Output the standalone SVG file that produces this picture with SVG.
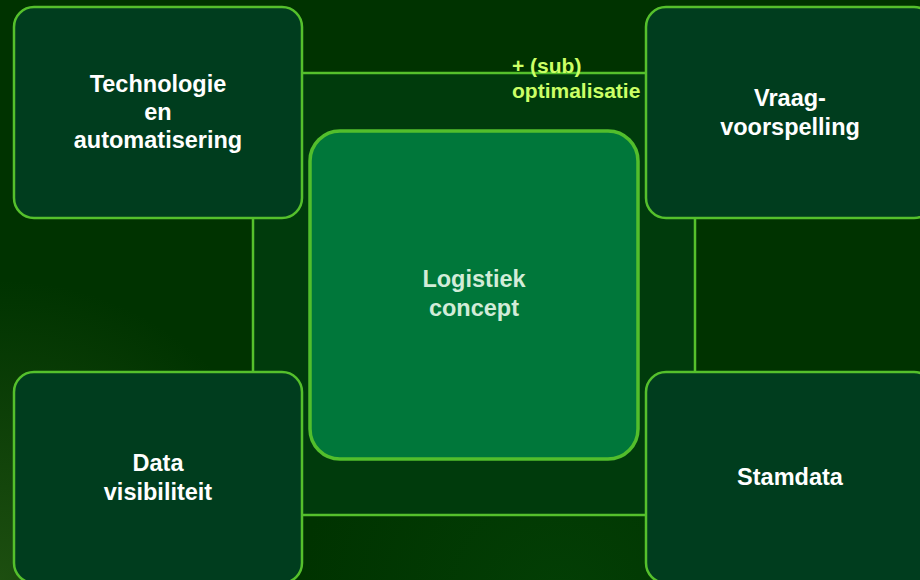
<svg xmlns="http://www.w3.org/2000/svg" width="920" height="580" viewBox="0 0 920 580">
  <defs>
    <radialGradient id="glow" cx="0" cy="580" r="300" gradientUnits="userSpaceOnUse">
      <stop offset="0" stop-color="#3a6a20" stop-opacity="0.5"/>
      <stop offset="1" stop-color="#3a6a20" stop-opacity="0"/>
    </radialGradient>
    <radialGradient id="glow2" cx="560" cy="600" r="260" gradientUnits="userSpaceOnUse">
      <stop offset="0" stop-color="#0a5a10" stop-opacity="0.3"/>
      <stop offset="1" stop-color="#0a5a10" stop-opacity="0"/>
    </radialGradient>
    <style>
      .box { fill: #003d1e; stroke: #55c02c; stroke-width: 2.5; }
      .core { fill: #00773a; stroke: #52be2c; stroke-width: 3.5; }
      .frame { fill: #003b0c; stroke: #55c02c; stroke-width: 2.5; }
      .t { font-family: "Liberation Sans", Arial, sans-serif; font-weight: bold; font-size: 23.5px; fill: #ffffff; text-anchor: middle; }
      .tc { fill: #d2ecd8; }
      .lbl { font-family: "Liberation Sans", Arial, sans-serif; font-weight: bold; font-size: 21px; fill: #ccff66; }
    </style>
  </defs>
  <rect x="0" y="0" width="920" height="580" fill="#003300"/>
  <rect x="0" y="0" width="920" height="580" fill="url(#glow)"/>
  <rect x="0" y="0" width="920" height="580" fill="url(#glow2)"/>

  <g id="connectors">
    <rect class="frame" x="253" y="73" width="442" height="442"/>
  </g>

  <g id="label">
    <text class="lbl" x="512" y="73">+ (sub)</text>
    <text class="lbl" x="512" y="98">optimalisatie</text>
  </g>

  <g id="node-technologie">
    <rect class="box" x="14" y="7" width="288" height="211" rx="20"/>
    <text class="t" x="158" y="91.5">Technologie</text>
    <text class="t" x="158" y="119.5">en</text>
    <text class="t" x="158" y="147.5">automatisering</text>
  </g>

  <g id="node-vraag">
    <rect class="box" x="646" y="7" width="288" height="211" rx="20"/>
    <text class="t" x="790" y="106">Vraag-</text>
    <text class="t" x="790" y="134.5">voorspelling</text>
  </g>

  <g id="node-data">
    <rect class="box" x="14" y="372" width="288" height="211" rx="20"/>
    <text class="t" x="158" y="471">Data</text>
    <text class="t" x="158" y="499.5">visibiliteit</text>
  </g>

  <g id="node-stamdata">
    <rect class="box" x="646" y="372" width="288" height="211" rx="20"/>
    <text class="t" x="790" y="484.5">Stamdata</text>
  </g>

  <g id="node-logistiek">
    <rect class="core" x="310" y="131" width="328" height="328" rx="30"/>
    <text class="t tc" x="474" y="287">Logistiek</text>
    <text class="t tc" x="474" y="315.5">concept</text>
  </g>
</svg>
